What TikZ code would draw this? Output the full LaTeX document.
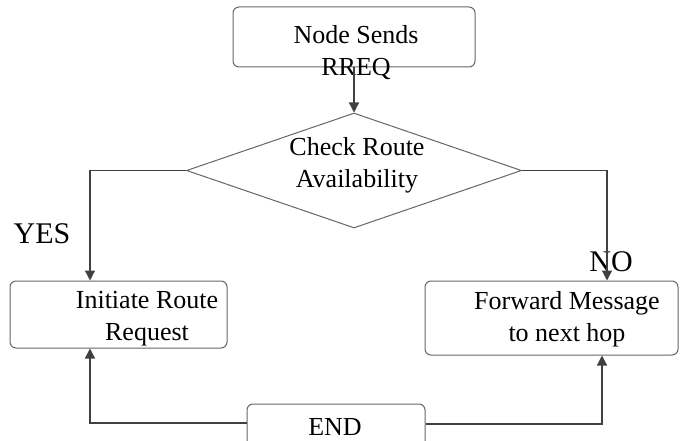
\documentclass[tikz,border=0pt]{standalone}
\usepackage{fontspec}
\setmainfont{Liberation Serif}
\usetikzlibrary{shapes.geometric,arrows.meta}
\begin{document}
\begin{tikzpicture}[x=1pt,y=-1pt,
  box/.style={draw=black!60,line width=1pt,rounded corners=6pt,inner sep=0pt},
  txt/.style={align=center,inner sep=0pt,font=\fontsize{26}{32}\selectfont},
  lbl/.style={inner sep=0pt,font=\fontsize{30}{34}\selectfont},
  conn/.style={draw=black!75,line width=1.3pt},
  arr/.style={conn,-{Triangle[length=10pt,width=10pt]}}]
\useasboundingbox (0,0) rectangle (685,441);
\clip (0,0) rectangle (685,441);
% boxes
\node[box,minimum width=242pt,minimum height=60pt] (top) at (354,37) {};
\node[draw=black!60,line width=1pt,shape=diamond,inner sep=0pt,minimum width=335pt,minimum height=115pt] (dia) at (354,170.5) {};
\node[box,minimum width=217pt,minimum height=67pt] (init) at (118.5,314.5) {};
\node[box,minimum width=253pt,minimum height=74pt] (fwd) at (551.5,318) {};
\node[box,minimum width=178pt,minimum height=50pt] (end) at (336,429) {};
% texts
\node[txt] (ttop) at (356,53) {Node Sends\\RREQ};
\node[txt] (tdia) at (357,165) {Check Route\\Availability};
\node[txt] (tinit) at (147,319) {Initiate Route\\Request};
\node[txt] (tfwd) at (567,319) {Forward Message\\to next hop};
\node[txt] (tend) at (335,427) {END};
\node[lbl] (yes) at (42,234) {YES};
\node[lbl] (no) at (611,262) {NO};
% connectors
\draw[arr] (top.south) -- (dia.north);
\draw[arr] (dia.west) -| ([xshift=-28.5pt]init.north);
\draw[arr] (dia.east) -| ([xshift=55.5pt]fwd.north);
\draw[arr] ([yshift=6pt]end.west) -| ([xshift=-28.5pt]init.south);
\draw[arr] ([yshift=5pt]end.east) -| ([xshift=50.5pt]fwd.south);
\end{tikzpicture}
\end{document}
